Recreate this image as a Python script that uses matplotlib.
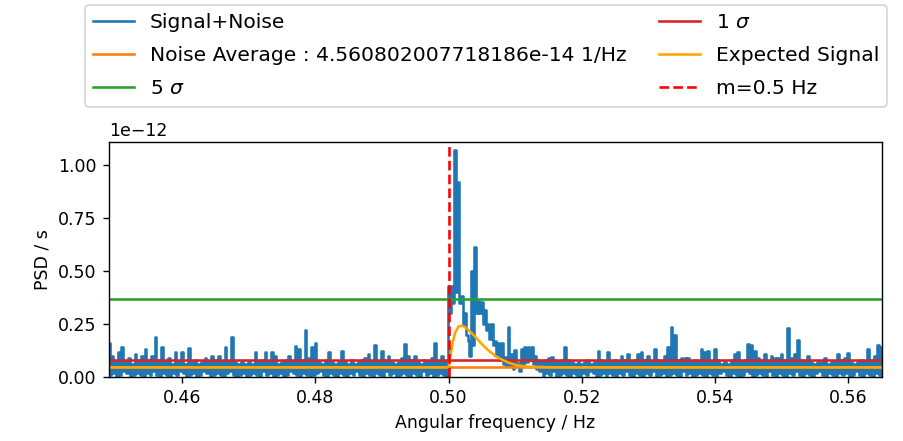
import numpy as np
import matplotlib
matplotlib.use("Agg")
import matplotlib.pyplot as plt

# frequency grid of the PSD (Hz), step 0.0005
f0 = 0.449
df = 0.0005

# upper values of the Signal+Noise PSD, units of 1e-12
psd_hi = [
    0.16, 0.10, 0.07, 0.12, 0.14, 0.07, 0.09, 0.06, 0.11, 0.08,
    0.10, 0.13, 0.08, 0.10, 0.19, 0.08, 0.14, 0.07, 0.09, 0.06,
    0.12, 0.07, 0.12, 0.06, 0.135, 0.07, 0.08, 0.06, 0.07, 0.09,
    0.07, 0.10, 0.08, 0.10, 0.07, 0.14, 0.07, 0.19, 0.07, 0.06,
    0.07, 0.06, 0.07, 0.06, 0.12, 0.07, 0.08, 0.12, 0.07, 0.12,
    0.10, 0.06, 0.07, 0.08, 0.10, 0.07, 0.145, 0.13, 0.08, 0.22,
    0.09, 0.14, 0.16, 0.07, 0.06, 0.08, 0.12, 0.07, 0.06, 0.07,
    0.125, 0.07, 0.06, 0.08, 0.06, 0.07, 0.08, 0.09, 0.11, 0.07,
    0.15, 0.07, 0.125, 0.08, 0.10, 0.07, 0.06, 0.07, 0.09, 0.155,
    0.10, 0.08, 0.10, 0.07, 0.06, 0.08, 0.07, 0.09, 0.162, 0.07,
    0.10, 0.07, 0.43, 0.43, 1.07, 0.92, 0.38, 0.30, 0.17, 0.50,
    0.615, 0.36, 0.355, 0.316, 0.25, 0.25, 0.17, 0.16, 0.16, 0.096,
    0.237, 0.11, 0.127, 0.065, 0.13, 0.14, 0.143, 0.14, 0.10, 0.08,
    0.07, 0.08, 0.09, 0.096, 0.08, 0.07, 0.08, 0.14, 0.08, 0.07,
    0.06, 0.07, 0.06, 0.07, 0.08, 0.06, 0.07, 0.124, 0.08, 0.07,
    0.12, 0.07, 0.08, 0.07, 0.10, 0.08, 0.11, 0.07, 0.08, 0.11,
    0.12, 0.08, 0.10, 0.07, 0.13, 0.08, 0.07, 0.10, 0.143, 0.237,
    0.20, 0.08, 0.09, 0.09, 0.09, 0.07, 0.08, 0.07, 0.13, 0.12,
    0.125, 0.07, 0.13, 0.08, 0.06, 0.07, 0.06, 0.08, 0.11, 0.12,
    0.07, 0.08, 0.155, 0.15, 0.125, 0.09, 0.08, 0.11, 0.07, 0.10,
    0.09, 0.09, 0.11, 0.08, 0.23, 0.09, 0.11, 0.176, 0.08, 0.07,
    0.10, 0.07, 0.06, 0.07, 0.07, 0.09, 0.06, 0.07, 0.07, 0.11,
    0.08, 0.09, 0.115, 0.07, 0.06, 0.07, 0.08, 0.07, 0.13, 0.08,
    0.10, 0.15, 0.14, 0.09, 0.08,
]
# lower values in between (units of 1e-12)
psd_lo = [
    0.01, 0.02, 0.00, 0.01, 0.03, 0.02, 0.00, 0.01, 0.02, 0.01,
    0.00, 0.02, 0.01, 0.03, 0.01, 0.00, 0.02, 0.01, 0.00, 0.02,
    0.01, 0.03, 0.02, 0.00, 0.01, 0.02, 0.00, 0.01, 0.03, 0.02,
    0.00, 0.01, 0.02, 0.01, 0.00, 0.02, 0.03, 0.01, 0.00, 0.01,
    0.02, 0.00, 0.01, 0.02, 0.01, 0.00, 0.03, 0.01, 0.02, 0.00,
    0.01, 0.02, 0.00, 0.01, 0.03, 0.02, 0.01, 0.00, 0.02, 0.01,
    0.00, 0.01, 0.02, 0.03, 0.01, 0.00, 0.02, 0.01, 0.00, 0.02,
    0.01, 0.00, 0.02, 0.01, 0.03, 0.01, 0.00, 0.02, 0.01, 0.00,
    0.02, 0.01, 0.00, 0.03, 0.01, 0.02, 0.00, 0.01, 0.02, 0.01,
    0.00, 0.02, 0.01, 0.00, 0.03, 0.01, 0.02, 0.00, 0.01, 0.02,
    0.01, 0.00, 0.30, 0.35, 0.40, 0.35, 0.25, 0.20, 0.10, 0.15,
    0.30, 0.30, 0.25, 0.22, 0.18, 0.15, 0.10, 0.08, 0.06, 0.05,
    0.05, 0.04, 0.06, 0.03, 0.06, 0.07, 0.08, 0.06, 0.04, 0.03,
    0.00, 0.02, 0.01, 0.03, 0.00, 0.01, 0.02, 0.01, 0.00, 0.02,
    0.01, 0.00, 0.02, 0.01, 0.03, 0.02, 0.00, 0.01, 0.02, 0.00,
    0.02, 0.01, 0.00, 0.02, 0.01, 0.03, 0.01, 0.00, 0.02, 0.01,
    0.00, 0.02, 0.01, 0.03, 0.00, 0.01, 0.02, 0.00, 0.01, 0.02,
    0.01, 0.00, 0.03, 0.01, 0.02, 0.00, 0.01, 0.02, 0.01, 0.00,
    0.02, 0.01, 0.00, 0.02, 0.03, 0.01, 0.00, 0.02, 0.01, 0.00,
    0.01, 0.03, 0.02, 0.00, 0.01, 0.02, 0.01, 0.00, 0.03, 0.01,
    0.00, 0.02, 0.01, 0.00, 0.02, 0.01, 0.03, 0.01, 0.00, 0.02,
    0.01, 0.00, 0.02, 0.03, 0.01, 0.00, 0.02, 0.01, 0.00, 0.02,
    0.01, 0.02, 0.00, 0.01, 0.03, 0.01, 0.00, 0.02, 0.01, 0.00,
    0.02, 0.01, 0.00, 0.02, 0.01,
]

# expected signal curve (Hz, units of 1e-12)
exp_f = [0.449, 0.5, 0.5003, 0.5006, 0.501, 0.5015, 0.502, 0.5025, 0.503,
         0.504, 0.505, 0.506, 0.507, 0.508, 0.509, 0.51, 0.511, 0.512,
         0.514, 0.516, 0.566]
exp_v = [0.0456, 0.0456, 0.10, 0.16, 0.21, 0.238, 0.242, 0.235, 0.222,
         0.19, 0.155, 0.125, 0.10, 0.082, 0.068, 0.058, 0.052, 0.049,
         0.047, 0.0456, 0.0456]

noise_avg = 4.560802007718186e-14
sigma1 = 0.080e-12
sigma5 = 0.366e-12
m = 0.5

n = len(psd_hi)
freq = f0 + df * np.arange(n)
xs = np.empty(2 * n)
ys = np.empty(2 * n)
xs[0::2] = freq
xs[1::2] = freq + df / 2
ys[0::2] = np.array(psd_hi) * 1e-12
ys[1::2] = np.array(psd_lo) * 1e-12

fig = plt.figure(figsize=(7.224, 3.528))
ax = fig.add_axes([0.1207, 0.1451, 0.8560, 0.5336])

ax.plot(xs, ys, color='C0', drawstyle='steps-mid', label='Signal+Noise')
ax.axhline(noise_avg, color='C1', label='Noise Average : ' + str(noise_avg) + ' 1/Hz')
ax.axhline(sigma5, color='C2', label=r'5 $\sigma$')
ax.axhline(sigma1, color='C3', label=r'1 $\sigma$')
ax.plot(exp_f, np.array(exp_v) * 1e-12, color='orange', label='Expected Signal')
ax.axvline(m, color='r', linestyle='--', label='m=0.5 Hz')

ax.set_xlim(0.449, 0.5651)
ax.set_ylim(0, 1.11e-12)
ax.set_yticks([0, 0.25e-12, 0.5e-12, 0.75e-12, 1.0e-12])
ax.set_xlabel('Angular frequency / Hz')
ax.set_ylabel('PSD / s')

ax.legend(loc='upper left', bbox_to_anchor=(0.094, 0.989),
          bbox_transform=fig.transFigure, ncol=2, fontsize=11.7,
          borderaxespad=0, columnspacing=1.6, labelspacing=0.7)

fig.savefig('out.png', dpi=125)
